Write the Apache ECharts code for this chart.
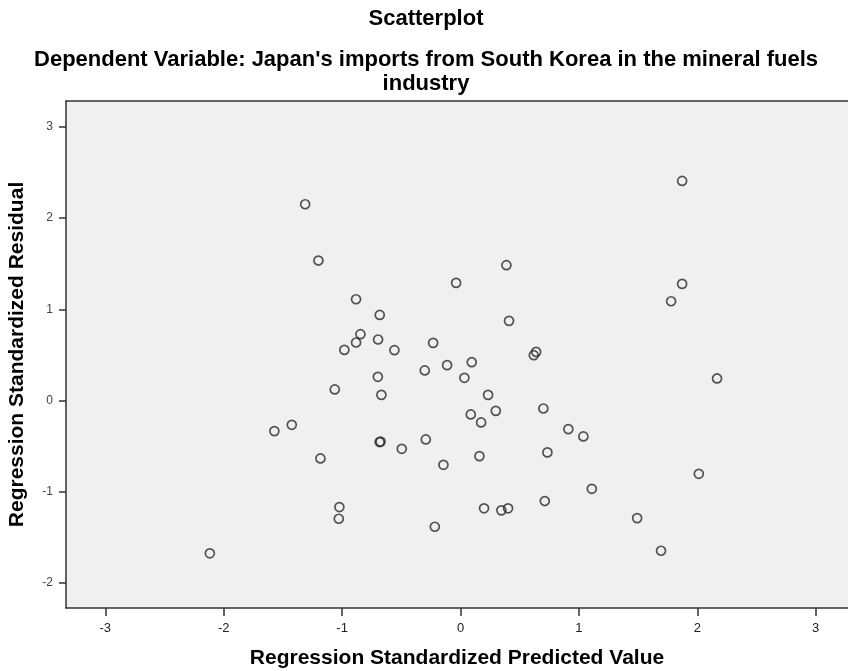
<!DOCTYPE html>
<html>
<head>
<meta charset="utf-8">
<script src="https://cdn.jsdelivr.net/npm/echarts@6/dist/echarts.min.js"></script>
<style>
  html, body { margin: 0; padding: 0; background: #ffffff; }
  #chart { width: 848px; height: 671px; }
</style>
</head>
<body>
<div id="chart"></div>
<script>
// Regression standardized predicted values (x) and residuals (y)
const predicted = [
  -1.312, -1.200, 0.388, -0.037, -0.882, -0.682, 0.410, -0.845, -0.882, -0.696,
  -0.981, -0.558, -0.231, 0.639, 0.619, 0.095, -0.113, -0.302, 0.033, -0.698,
  -1.062, -0.668, 0.233, 0.087, 0.174, 0.298, 0.700, 0.911, 1.038, -1.425,
  -1.572, -0.683, -0.675, -0.496, -0.293, -0.144, 0.160, 0.734, -1.183, 1.109,
  -1.023, -1.028, 0.199, 0.345, 0.402, 0.712, -0.217, 1.872, 1.872, 1.779,
  2.167, 2.013, 1.492, 1.694, -2.117
];
const residual = [
  2.151, 1.534, 1.483, 1.289, 1.110, 0.938, 0.873, 0.727, 0.636, 0.669,
  0.555, 0.552, 0.632, 0.533, 0.497, 0.420, 0.388, 0.330, 0.249, 0.260,
  0.122, 0.062, 0.062, -0.152, -0.240, -0.113, -0.087, -0.313, -0.393, -0.266,
  -0.335, -0.455, -0.450, -0.529, -0.426, -0.704, -0.609, -0.568, -0.634, -0.967,
  -1.167, -1.295, -1.181, -1.203, -1.181, -1.101, -1.383, 2.406, 1.278, 1.088,
  0.242, -0.803, -1.288, -1.646, -1.674
];
const xTicks = [-3, -2, -1, 0, 1, 2, 3];
const yTicks = [-2, -1, 0, 1, 2, 3];

const titleText = 'Scatterplot';
const subtitleLines = ["Dependent Variable: Japan's imports from South Korea in the mineral fuels", 'industry'];
const xName = 'Regression Standardized Predicted Value';
const yName = 'Regression Standardized Residual';

const points = predicted.map((x, i) => [x, residual[i]]);
const FONT = '"Liberation Sans", Arial, sans-serif';
const AXIS = '#333';

const chart = echarts.init(document.getElementById('chart'), null, { renderer: 'canvas' });
chart.setOption({
  animation: false,
  backgroundColor: '#ffffff',
  graphic: [
    {
      type: 'text', x: 426, y: 19,
      style: { text: titleText, textAlign: 'center', textVerticalAlign: 'middle',
               font: 'bold 22px ' + FONT, fill: '#000' }
    },
    {
      type: 'text', x: 426, y: 60,
      style: { text: subtitleLines[0], textAlign: 'center', textVerticalAlign: 'middle',
               font: 'bold 22px ' + FONT, fill: '#000' }
    },
    {
      type: 'text', x: 426, y: 84,
      style: { text: subtitleLines[1], textAlign: 'center', textVerticalAlign: 'middle',
               font: 'bold 22px ' + FONT, fill: '#000' }
    }
  ],
  grid: {
    left: 66, top: 101, right: 0, bottom: 63,
    outerBoundsMode: 'none',
    show: true, backgroundColor: '#f0f0f0', borderWidth: 0
  },
  xAxis: [
    {
      type: 'value', position: 'bottom',
      min: -3.332, max: 3.273,
      name: xName, nameLocation: 'middle', nameGap: 40,
      nameTextStyle: { fontFamily: FONT, fontWeight: 'bold', fontSize: 21, color: '#000' },
      axisLine: { show: true, onZero: false, lineStyle: { color: AXIS, width: 1.5 } },
      axisTick: { show: true, length: 8, customValues: xTicks, lineStyle: { color: AXIS, width: 1.5 } },
      axisLabel: { customValues: xTicks, fontFamily: FONT, fontSize: 13, color: '#222', margin: 14 },
      splitLine: { show: false }
    },
    {
      // top frame line of the plot box
      type: 'value', position: 'top',
      min: -3.332, max: 3.273,
      axisLine: { show: true, onZero: false, lineStyle: { color: AXIS, width: 1.5 } },
      axisTick: { show: false }, axisLabel: { show: false }, splitLine: { show: false }
    }
  ],
  yAxis: {
    type: 'value',
    min: -2.273, max: 3.282,
    name: yName, nameLocation: 'middle', nameGap: 38,
    nameTextStyle: { fontFamily: FONT, fontWeight: 'bold', fontSize: 21, color: '#000' },
    axisLine: { show: true, onZero: false, lineStyle: { color: AXIS, width: 1.5 } },
    axisTick: { show: true, length: 7, customValues: yTicks, lineStyle: { color: AXIS, width: 1.5 } },
    axisLabel: { customValues: yTicks, fontFamily: FONT, fontSize: 12, color: '#444', margin: 13 },
    splitLine: { show: false }
  },
  series: [{
    type: 'scatter',
    xAxisIndex: 0,
    data: points,
    symbol: 'circle',
    symbolSize: 9,
    itemStyle: { color: 'rgba(0,0,0,0)', borderColor: '#2b2b2b', borderWidth: 1.7 }
  }]
});
</script>
</body>
</html>
